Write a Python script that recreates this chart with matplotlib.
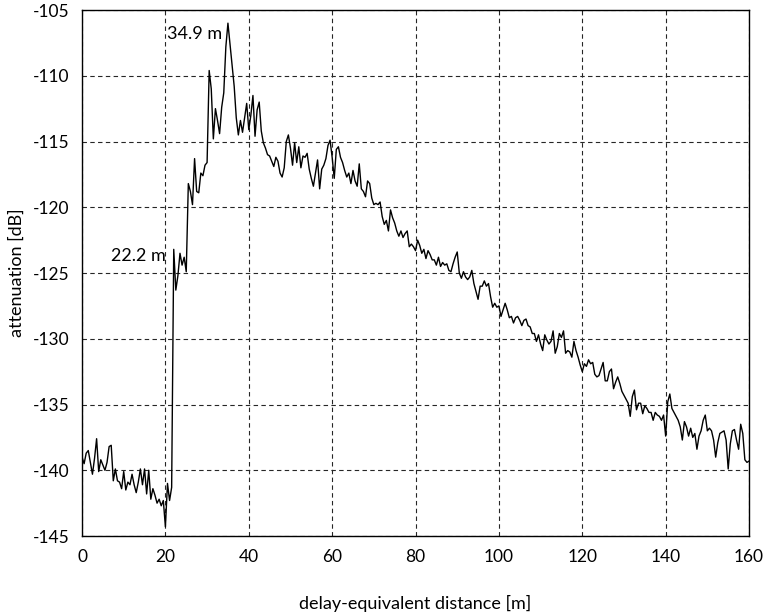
import numpy as np
import matplotlib
matplotlib.use("Agg")
import matplotlib.pyplot as plt

# --- DATA (one sample every 0.5 m) ---
STEP_M = 0.5

# 0.0 .. 21.0 m : noise floor before the first reflection
atten_floor = [
    -139.0, -139.5, -138.7, -138.5, -139.4, -140.3, -139.1, -137.6, -140.1, -139.2,
    -139.6, -140.0, -139.4, -138.2, -138.1, -140.8, -139.9, -140.8, -140.9, -141.4,
    -140.1, -141.5, -140.9, -141.1, -140.3, -141.1, -141.7, -140.9, -139.9, -141.1,
    -139.9, -141.8, -140.0, -142.2, -141.4, -141.9, -142.5, -142.2, -142.7, -142.3,
    -144.3, -141.0, -142.3,
]
# 21.5 .. 42.0 m : onset and main peak
atten_peak = [
    -141.3, -123.2, -126.3, -125.2, -123.5, -124.4, -123.8, -124.9, -118.2, -118.8,
    -119.8, -116.3, -118.8, -118.9, -117.4, -117.6, -116.8, -116.6, -109.6, -111.0,
    -114.8, -112.5, -113.4, -114.4, -112.4, -111.3, -107.8, -106.0, -107.6, -109.2,
    -110.8, -113.2, -114.5, -113.4, -114.3, -113.2, -112.1, -114.1, -113.0, -111.5,
    -114.6, -112.6,
]
# 42.5 .. 69.0 m : plateau
atten_plateau = [
    -112.0, -114.2, -115.1, -115.5, -116.0, -116.1, -116.5, -116.9, -116.2, -116.5,
    -117.4, -117.7, -117.0, -115.0, -114.5, -115.5, -116.8, -115.1, -116.6, -115.4,
    -117.0, -116.1, -116.2, -115.9, -117.1, -117.8, -118.4, -117.4, -116.4, -118.6,
    -117.1, -116.8, -116.3, -115.3, -114.9, -116.2, -117.8, -115.6, -115.4, -116.2,
    -116.6, -117.2, -117.7, -117.4, -118.2, -117.2, -118.0, -118.4, -116.7, -118.6,
    -118.8, -119.2, -118.0, -118.2,
]
# 69.5 .. 108.0 m : decay
atten_decay = [
    -119.3, -119.8, -119.7, -119.8, -119.6, -120.7, -121.3, -121.0, -121.8, -120.2,
    -120.8, -121.2, -121.8, -122.2, -121.8, -122.3, -122.0, -121.8, -123.0, -122.8,
    -123.0, -123.3, -122.5, -122.9, -123.5, -123.2, -123.9, -123.3, -123.6, -124.0,
    -124.0, -124.4, -123.8, -124.5, -124.2, -124.4, -124.3, -124.8, -124.9, -124.3,
    -123.8, -123.4, -125.0, -125.4, -124.9, -125.3, -125.5, -125.3, -124.8, -125.8,
    -126.4, -127.0, -126.0, -126.0, -125.6, -126.0, -125.8, -126.8, -127.6, -127.3,
    -127.6, -127.5, -128.3, -127.8, -127.3, -127.8, -128.4, -128.3, -128.8, -128.4,
    -128.3, -128.6, -129.0, -128.6, -128.5, -129.0, -129.1, -129.6,
]
# 108.5 .. 160.0 m : tail
atten_tail = [
    -129.6, -130.2, -129.7, -130.4, -130.9, -129.7, -130.1, -130.4, -130.2, -129.4,
    -131.1, -130.6, -129.6, -129.9, -129.4, -131.1, -130.9, -131.0, -131.4, -130.2,
    -130.9, -131.4, -132.0, -132.5, -131.9, -132.1, -131.6, -131.9, -131.8, -132.7,
    -132.9, -132.8, -132.3, -131.8, -133.2, -133.2, -132.5, -132.3, -133.8, -133.3,
    -132.9, -133.4, -134.0, -134.3, -134.6, -134.9, -135.9, -134.4, -133.9, -135.4,
    -134.9, -134.9, -135.7, -135.1, -135.3, -135.6, -135.6, -136.2, -135.6, -135.8,
    -135.9, -136.2, -135.8, -137.4, -134.8, -134.2, -135.3, -135.6, -135.9, -136.2,
    -136.7, -137.7, -136.3, -136.7, -137.4, -136.8, -137.5, -137.2, -138.4, -137.4,
    -137.0, -136.2, -135.8, -137.0, -136.8, -137.0, -137.7, -139.0, -137.9, -137.2,
    -137.1, -137.0, -137.7, -139.9, -138.0, -137.0, -136.9, -137.7, -138.4, -136.5,
    -137.2, -139.2, -139.4, -139.3,
]

peak_labels = ["22.2 m", "34.9 m"]
peak_label_pos = [(20.2, -123.7), (33.7, -106.8)]

x_ticks = [0, 20, 40, 60, 80, 100, 120, 140, 160]
y_ticks = [-105, -110, -115, -120, -125, -130, -135, -140, -145]

plt.rcParams['font.family'] = ['Lato', 'DejaVu Sans']
plt.rcParams['axes.unicode_minus'] = False

attenuation = np.array(atten_floor + atten_peak + atten_plateau + atten_decay + atten_tail)
distance = np.arange(len(attenuation)) * STEP_M

fig = plt.figure(figsize=(7.63, 6.14), dpi=100)
ax = fig.add_axes([0.1075, 0.127, 0.8742, 0.8567])

ax.plot(distance, attenuation, color='black', linewidth=1.0)

ax.set_xlim(0, 160)
ax.set_ylim(-145, -105)
ax.set_xticks(x_ticks)
ax.set_yticks(y_ticks)
ax.tick_params(direction='in', length=0, labelsize=12.5, pad=9, colors='black')

ax.grid(True, color='0.15', linestyle=(0, (4, 3)), linewidth=0.8)
for sp in ax.spines.values():
    sp.set_linewidth(1.0)
    sp.set_color('black')

for label, (lx, ly) in zip(peak_labels, peak_label_pos):
    ax.text(lx, ly, label, ha='right', va='center', fontsize=13)

ax.set_xlabel("delay-equivalent distance [m]", fontsize=13, labelpad=22)
ax.set_ylabel("attenuation [dB]", fontsize=13, labelpad=6)

fig.savefig("out.png", dpi=100)
